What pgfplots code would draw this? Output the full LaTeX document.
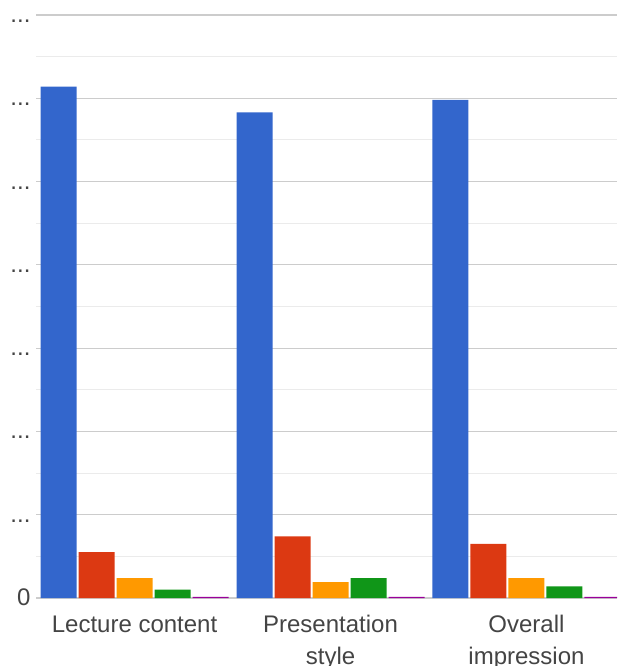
\documentclass[border=0pt]{standalone}
\usepackage{pgfplots}
\pgfplotsset{compat=1.18}
\usepackage{fontspec}
\setmainfont{Liberation Sans}

\definecolor{gblue}{HTML}{3366CC}
\definecolor{gred}{HTML}{DC3912}
\definecolor{gorange}{HTML}{FF9900}
\definecolor{ggreen}{HTML}{109618}
\definecolor{gpurple}{HTML}{990099}
\definecolor{txt}{HTML}{444444}
\definecolor{gridmaj}{HTML}{CCCCCC}
\definecolor{gridmin}{HTML}{EBEBEB}
\definecolor{baseln}{HTML}{333333}

\newcommand\ddd{{.}{.}{.}}

\begin{document}
\begin{tikzpicture}
\begin{axis}[
	name=ax, at={(0,0)}, anchor=south west,
	scale only axis, width=581pt, height=583pt,
	xmin=-0.503, xmax=2.462, ymin=0, ymax=70,
	axis line style={draw=none},
	major tick length=0pt, minor tick length=0pt,
	ybar=2pt, bar width=36pt,
	xtick={0,1,2},
	xticklabels={Lecture content, Presentation\\style, Overall\\impression},
	xticklabel style={align=center, font=\fontsize{24}{32}\selectfont, text=txt, yshift=-14pt},
	ytick={0,10,...,70},
	yticklabels={0,\ddd,\ddd,\ddd,\ddd,\ddd,\ddd,\ddd},
	yticklabel style={font=\fontsize{24}{28}\selectfont, text=txt,
		anchor=base east, yshift=-7.5pt, xshift=-2pt},
	minor y tick num=1,
	ymajorgrids, yminorgrids,
	major grid style={draw=gridmaj, line width=1.2pt},
	minor grid style={draw=gridmin, line width=1pt},
	extra y ticks={0}, extra y tick labels={},
	extra y tick style={grid style={draw=baseln, line width=1.6pt}},
	every axis plot/.append style={draw=none},
	]
% blue, red, orange, green, purple
\addplot[fill=gblue] coordinates {(0,61.4) (1,58.3) (2,59.8)};
\addplot[fill=gred] coordinates {(0,5.5) (1,7.4) (2,6.5)};
\addplot[fill=gorange] coordinates {(0,2.4) (1,1.9) (2,2.4)};
\addplot[fill=ggreen] coordinates {(0,1.0) (1,2.4) (2,1.4)};
\addplot[fill=gpurple] coordinates {(0,0.15) (1,0.15) (2,0.15)};
\end{axis}
\pgfresetboundingbox
\useasboundingbox ([xshift=-36pt,yshift=-68pt]ax.south west) rectangle ([yshift=15pt]ax.north east);
\end{tikzpicture}
\end{document}
